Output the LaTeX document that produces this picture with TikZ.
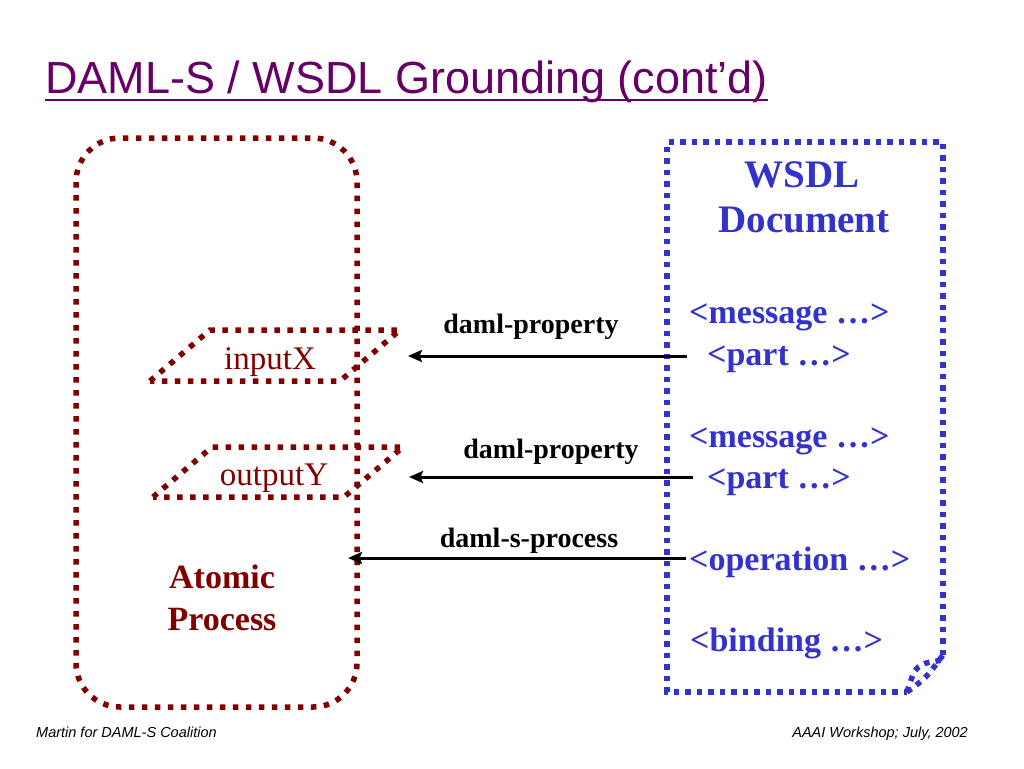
\documentclass[tikz,border=0pt]{standalone}
\usepackage{fontspec}
\setmainfont{Liberation Serif}
\newfontfamily\arialfont{Liberation Sans}
\usetikzlibrary{arrows.meta}
\definecolor{procred}{RGB}{128,0,0}
\definecolor{wsdlblue}{RGB}{51,51,204}
\definecolor{titlepurple}{RGB}{102,0,102}
\tikzset{>={Stealth[length=14pt,width=12pt,inset=2.5pt]}}

\begin{document}
\begin{tikzpicture}[x=1pt,y=-1pt,
    reddots/.style={procred,line width=5.5pt,dash pattern=on 5.5pt off 7.5pt},
    bluedots/.style={wsdlblue,line width=5.5pt,dash pattern=on 5.5pt off 6pt},
    param/.style={procred,anchor=base,inner sep=0pt,font=\fontsize{33}{36}\selectfont},
    proclbl/.style={procred,anchor=base,inner sep=0pt,font=\fontsize{34}{36}\selectfont\bfseries},
    linklbl/.style={anchor=base,inner sep=0pt,font=\fontsize{28}{30}\selectfont\bfseries},
    wsdltxt/.style={wsdlblue,anchor=base west,inner sep=0pt,font=\fontsize{34}{36}\selectfont\bfseries},
    link/.style={->,line width=3pt}]
  \useasboundingbox (0,0) rectangle (1024,768);

  % title
  \node[anchor=base west,inner sep=0pt,titlepurple,font=\arialfont\fontsize{45}{50}\selectfont] (title) at (45,93) {DAML-S / WSDL Grounding (cont’d)};
  \draw[titlepurple,line width=2.5pt] ([yshift=-7pt]title.base west) -- ([yshift=-7pt]title.base east);

  % atomic process
  \draw[reddots,rounded corners=44pt] (76,138) rectangle (357,707);
  \draw[reddots] (150,381) -- (210,330) -- (400,330) -- (340,381) -- cycle;
  \draw[reddots] (153,497) -- (212,447) -- (403,447) -- (344,497) -- cycle;
  \node[param] (inX) at (270,369) {inputX};
  \node[param] (outY) at (274,485) {outputY};
  \node[proclbl] (atomic) at (222,588) {Atomic};
  \node[proclbl] (process) at (222,630) {Process};

  % wsdl document
  \draw[bluedots] (943,655) -- (943,142) -- (667,142) -- (667,692) -- (907,692);
  \draw[bluedots] (907,692) .. controls (926,678) .. (943,655);
  \draw[bluedots] (907,692) .. controls (916,664) .. (943,660);
  \node[wsdlblue,anchor=base,inner sep=0pt,font=\fontsize{39}{42}\selectfont\bfseries] (wsdl) at (802,187) {WSDL};
  \node[wsdlblue,anchor=base,inner sep=0pt,font=\fontsize{39}{42}\selectfont\bfseries] (doc) at (804,232) {Document};
  \node[wsdltxt] (msg1) at (689,323) {<message …>};
  \node[wsdltxt] (part1) at (707,365) {<part …>};
  \node[wsdltxt] (msg2) at (689,447) {<message …>};
  \node[wsdltxt] (part2) at (707,488) {<part …>};
  \node[wsdltxt] (oper) at (689,570) {<operation …>};
  \node[wsdltxt] (bind) at (690,651) {<binding …>};

  % links
  \coordinate (from1) at (687,356);
  \coordinate (to1) at (408,356);
  \coordinate (from2) at (693,477);
  \coordinate (to2) at (409,477);
  \coordinate (from3) at (686,558);
  \coordinate (to3) at (348,558);
  \draw[link] (from1) -- (to1);
  \draw[link] (from2) -- (to2);
  \draw[link] (from3) -- (to3);
  \node[linklbl] (prop1) at (531,333) {daml-property};
  \node[linklbl] (prop2) at (551,458) {daml-property};
  \node[linklbl] (sproc) at (529,547) {daml-s-process};

  % footer
  \node[anchor=base west,inner sep=0pt,font=\arialfont\itshape\fontsize{14.5}{16}\selectfont] (foot1) at (36,737) {Martin for DAML-S Coalition};
  \node[anchor=base east,inner sep=0pt,font=\arialfont\itshape\fontsize{14.5}{16}\selectfont] (foot2) at (968,737) {AAAI Workshop; July, 2002};
\end{tikzpicture}
\end{document}
